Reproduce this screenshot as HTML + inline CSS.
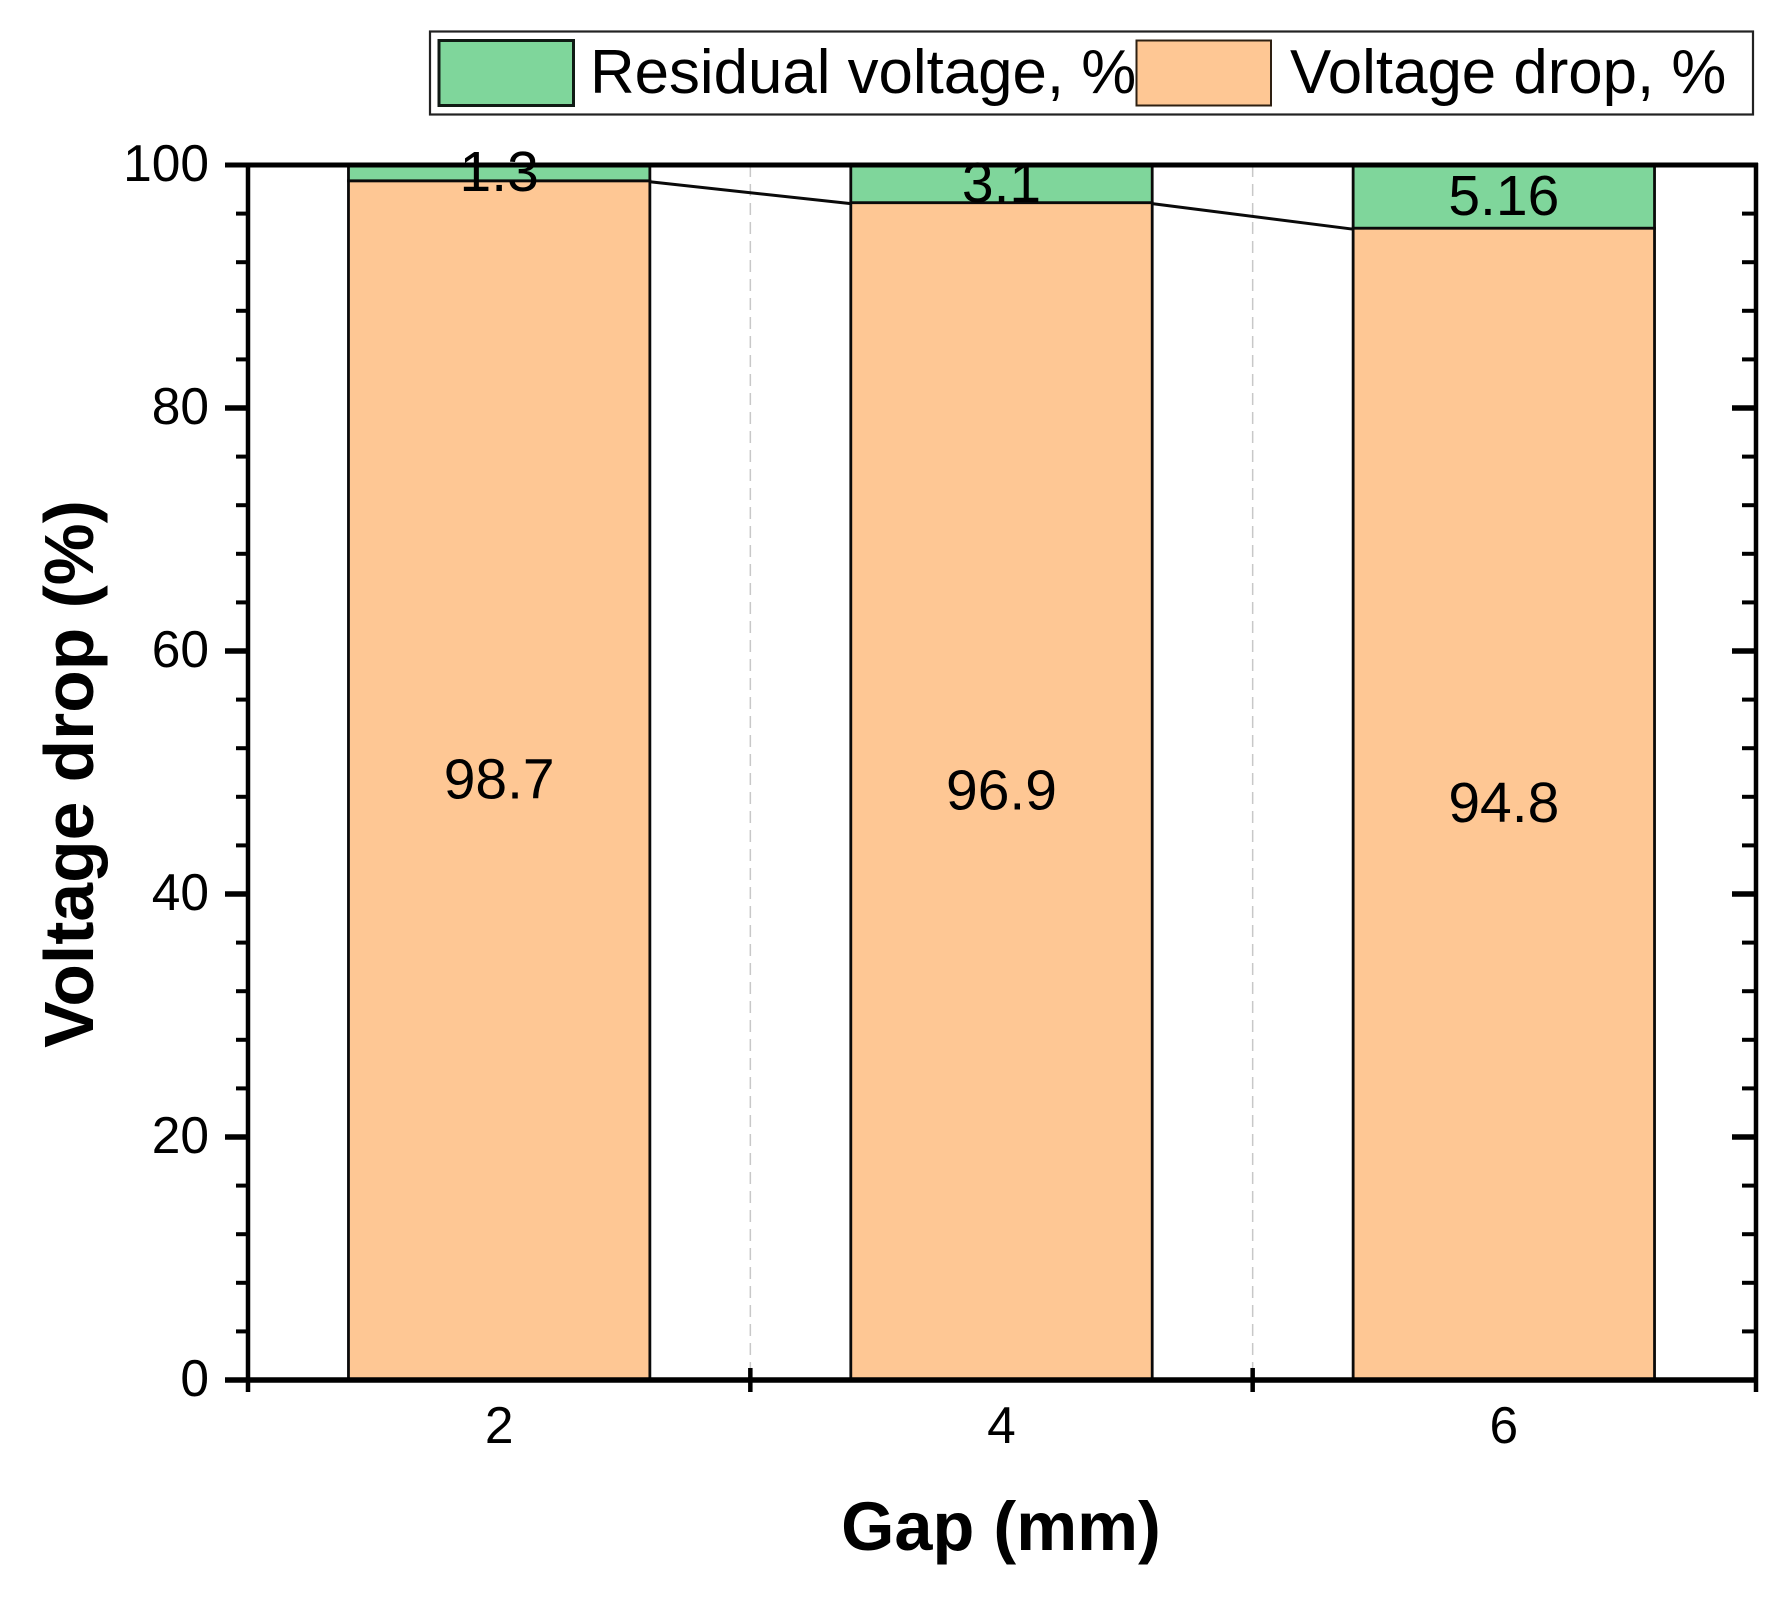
<!DOCTYPE html>
<html>
<head>
<meta charset="utf-8">
<title>Voltage drop vs gap</title>
<style>
  html, body { margin: 0; padding: 0; background: #ffffff; }
  svg { display: block; }
  text { font-family: "Liberation Sans", Arial, sans-serif; fill: #000; }
</style>
</head>
<body>
<svg id="chart" xmlns="http://www.w3.org/2000/svg" width="1784" height="1597" viewBox="0 0 1784 1597">
  <rect x="0" y="0" width="1784" height="1597" fill="#ffffff"/>
  <g id="grid"></g>
  <g id="bars"></g>
  <g id="axes"></g>
  <g id="labels"></g>
  <g>
    <rect x="430" y="31.5" width="1323" height="83" fill="#ffffff" stroke="#222222" stroke-width="2.2"/>
    <rect x="439" y="40.5" width="134.5" height="65" fill="#7fd69b" stroke="#101a14" stroke-width="3"/>
    <text x="590" y="93" font-size="61.8">Residual voltage, %</text>
    <rect x="1136.5" y="40.5" width="134.5" height="65" fill="#fec794" stroke="#2e2012" stroke-width="2"/>
    <text x="1290" y="93" font-size="61.8">Voltage drop, %</text>
  </g>
  <text transform="translate(93,774) rotate(-90)" text-anchor="middle" font-size="69.6" font-weight="bold">Voltage drop (%)</text>
  <text x="1001" y="1550" text-anchor="middle" font-size="68.5" font-weight="bold">Gap (mm)</text>
</svg>
<script>
const categories = ['2', '4', '6'];
const voltageDrop = [98.7, 96.9, 94.8];
const residualVoltage = [1.3, 3.1, 5.16];
const yTicks = [0, 20, 40, 60, 80, 100];
const yMinorTicks = [4, 8, 12, 16, 24, 28, 32, 36, 44, 48, 52, 56, 64, 68, 72, 76, 84, 88, 92, 96];

const NS = 'http://www.w3.org/2000/svg';
const plot = { left: 248, right: 1755, top: 165, bottom: 1380 };
const yMax = 100;
const barFrac = 0.6;
const orange = '#fec794';
const green = '#7fd69b';

function band() { return (plot.right - plot.left) / categories.length; }
function xCenter(i) { return plot.left + (i + 0.5) * band(); }
function xEdge(i) { return plot.left + i * band(); }
function yScale(v) { return plot.bottom - (v / yMax) * (plot.bottom - plot.top); }

function mk(parent, tag, attrs, txt) {
  const el = document.createElementNS(NS, tag);
  for (const k in attrs) el.setAttribute(k, attrs[k]);
  if (txt !== undefined) el.textContent = txt;
  parent.appendChild(el);
  return el;
}
function line(parent, x1, y1, x2, y2, w, color) {
  return mk(parent, 'line', { x1: x1, y1: y1, x2: x2, y2: y2, stroke: color || '#000', 'stroke-width': w });
}

const gGrid = document.getElementById('grid');
const gBars = document.getElementById('bars');
const gAxes = document.getElementById('axes');
const gLabels = document.getElementById('labels');

// Vertical dashed gridlines at category boundaries
for (let i = 1; i < categories.length; i++) {
  const g = line(gGrid, xEdge(i), plot.top, xEdge(i), plot.bottom, 1.5, '#c8c8c8');
  g.setAttribute('stroke-dasharray', '12 7');
  
  
}

// Stacked bars
const barW = band() * barFrac;
categories.forEach(function (cat, i) {
  const x = xCenter(i) - barW / 2;
  const yDrop = yScale(voltageDrop[i]);
  const yTop = yScale(Math.min(voltageDrop[i] + residualVoltage[i], yMax));

  const drop = mk(gBars, 'rect', { x: x, y: yDrop, width: barW, height: plot.bottom - yDrop, fill: orange, stroke: '#0a0a0a', 'stroke-width': 2.8 });
  
  

  const resid = mk(gBars, 'rect', { x: x, y: yTop, width: barW, height: yDrop - yTop, fill: green, stroke: '#0a0a0a', 'stroke-width': 2.8 });
  
  

  if (i < categories.length - 1) {
    const c = line(gBars, x + barW, yDrop + 1, xCenter(i + 1) - barW / 2, yScale(voltageDrop[i + 1]) + 1, 3, '#0a0a0a');
    
    
  }
});

// Frame
const frameLeft = line(gAxes, plot.left, plot.top - 2, plot.left, plot.bottom + 12, 4.5);



const frameRight = line(gAxes, plot.right + 1, plot.top - 2, plot.right + 1, plot.bottom + 12, 4.5);



const frameTop = line(gAxes, plot.left - 23, plot.top, plot.right + 3, plot.top, 5);



const frameBottom = line(gAxes, plot.left - 23, plot.bottom, plot.right + 3, plot.bottom, 5.5);



// Y ticks
yTicks.forEach(function (v) {
  const y = yScale(v);
  if (v !== 0 && v !== yMax) {
    const t = line(gAxes, plot.left - 23, y, plot.left, y, 5.5);
    
    

    const r = line(gAxes, plot.right + 1, y, plot.right - 23, y, 5.5);
    
    
  }
  const lab = mk(gAxes, 'text', { x: 209, y: y + 16, 'text-anchor': 'end', 'font-size': 51.5 }, String(v));
  
  
});
yMinorTicks.forEach(function (v) {
  const y = yScale(v);
  const t = line(gAxes, plot.left - 12, y, plot.left, y, 4);
  
  

  const r = line(gAxes, plot.right + 1, y, plot.right - 13, y, 4);
  
  
});

// X boundary ticks
for (let i = 1; i < categories.length; i++) {
  const t = line(gAxes, xEdge(i), plot.bottom - 12, xEdge(i), plot.bottom + 12, 4.5);
  
  
}

// X category labels
categories.forEach(function (cat, i) {
  const lab = mk(gAxes, 'text', { x: xCenter(i), y: 1443, 'text-anchor': 'middle', 'font-size': 51.5 }, cat);
  
  
});

// Value labels, centred in each segment
categories.forEach(function (cat, i) {
  const midDrop = yScale(voltageDrop[i] / 2);
  const a = mk(gLabels, 'text', { x: xCenter(i), y: midDrop + 18, 'text-anchor': 'middle', 'font-size': 57 }, String(voltageDrop[i]));
  
  

  const midRes = yScale(voltageDrop[i] + residualVoltage[i] / 2);
  const b = mk(gLabels, 'text', { x: xCenter(i), y: midRes + 18, 'text-anchor': 'middle', 'font-size': 57 }, String(residualVoltage[i]));
  
  
});
</script>
</body>
</html>
